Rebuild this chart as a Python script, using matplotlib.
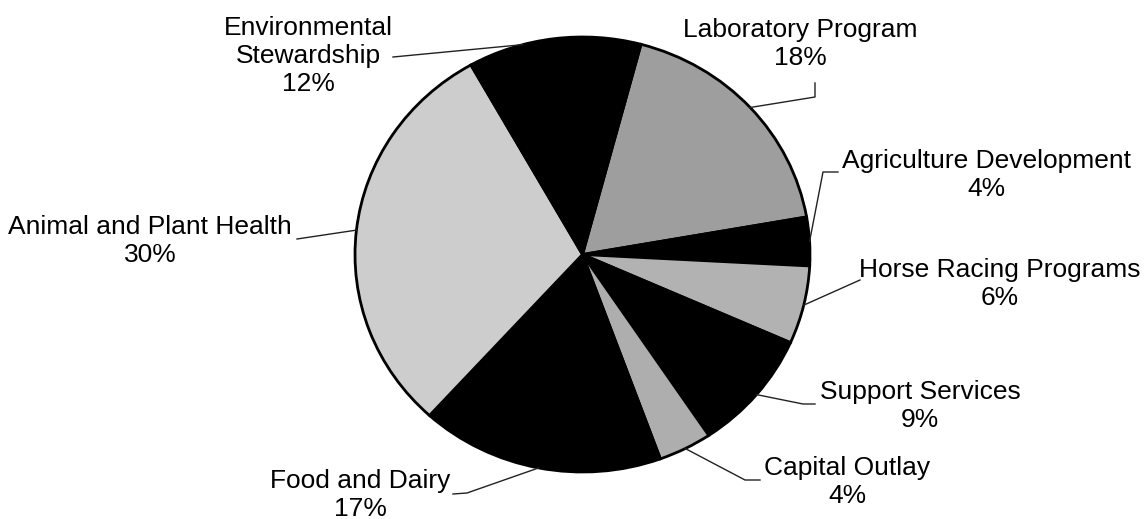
import numpy as np
import matplotlib
matplotlib.use("Agg")
import matplotlib.pyplot as plt

plt.rcParams["font.family"] = ["Liberation Sans", "DejaVu Sans"]

# 予算の内訳 (%)
categories = ["Laboratory Program", "Agriculture Development", "Horse Racing Programs",
              "Support Services", "Capital Outlay", "Food and Dairy",
              "Animal and Plant Health", "Environmental Stewardship"]
shares = [18.1, 3.6, 5.8, 9.0, 3.8, 17.3, 30.1, 12.3]
pct_labels = ["18%", "4%", "6%", "9%", "4%", "17%", "30%", "12%"]
label_text = ["Laboratory Program", "Agriculture Development", "Horse Racing Programs",
              "Support Services", "Capital Outlay", "Food and Dairy",
              "Animal and Plant Health", "Environmental\nStewardship"]

colors = ["#9e9e9e", "black", "#b2b2b2", "black", "#aeaeae", "black", "#cdcdcd", "black"]

# ラベル配置 (画像ピクセル座標): 文字の中心, 引き出し線の折れ点
text_pos = [(800, 44), (986, 175), (1000, 284), (920, 406),
            (847, 482), (360, 495), (150, 241), (308, 56)]
elbows = [[(815, 97), (815, 83)], [(823, 172), (838, 172)], [(860, 280)],
          [(803, 404), (815, 404)], [(745, 480), (760, 480)],
          [(467, 493), (453, 494)], [(297, 239)], [(393, 57)]]
angle_shift = [0, 0, 0, 0, 0, 0, 0, 8]

W, H = 1147, 519
fig = plt.figure(figsize=(W / 100, H / 100), dpi=100)

# 円グラフ本体 (少し横長)
left, top, pw, ph = 355, 37, 455, 435
ax_pie = fig.add_axes([left / W, (H - top - ph) / H, pw / W, ph / H])
wedges, _ = ax_pie.pie(shares, colors=colors, startangle=75.1, counterclock=False,
                       wedgeprops=dict(edgecolor="black", linewidth=2.0))
ax_pie.set_aspect("auto")
ax_pie.set_xlim(-1, 1)
ax_pie.set_ylim(-1, 1)
for w in wedges:
    w.set_clip_on(False)

# ラベル用のオーバーレイ
ax = fig.add_axes([0, 0, 1, 1], facecolor="none")
ax.set_xlim(0, W)
ax.set_ylim(H, 0)
ax.axis("off")

fig.canvas.draw()
to_pix = ax_pie.transData + ax.transData.inverted()

for i, w in enumerate(wedges):
    mid = np.deg2rad((w.theta1 + w.theta2) / 2 + angle_shift[i])
    ex, ey = to_pix.transform((np.cos(mid), np.sin(mid)))
    pts = [(ex, ey)] + elbows[i]
    xs, ys = zip(*pts)
    ax.plot(xs, ys, color="#222222", linewidth=1.0)
    ax.text(text_pos[i][0], text_pos[i][1], label_text[i] + "\n" + pct_labels[i],
            ha="center", va="center", multialignment="center",
            fontsize=19, linespacing=1.2, color="black")

fig.savefig("out.png", dpi=100, facecolor="white")
